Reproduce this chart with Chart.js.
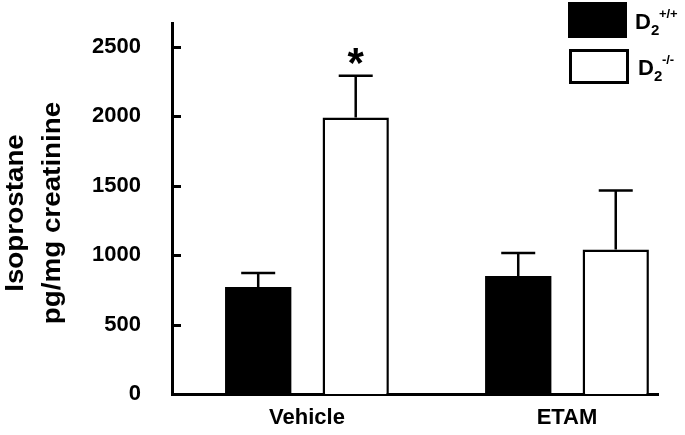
<!DOCTYPE html>
<html>
<head>
<meta charset="utf-8">
<script src="https://cdn.jsdelivr.net/npm/chart.js@4/dist/chart.umd.min.js"></script>
<style>
  html, body { margin: 0; padding: 0; background: #fff; }
  #chart { display: block; }
</style>
</head>
<body>
<canvas id="chart" width="685" height="435"></canvas>
<script>
const categories = ['Vehicle', 'ETAM'];
const wtMean = [770, 850];   // D2+/+
const wtErr = [100, 165];
const koMean = [1990, 1040]; // D2-/-
const koErr = [300, 425];
const yTicks = [0, 500, 1000, 1500, 2000, 2500];
const significant = [true, false]; // asterisk over D2-/- bar

const FONT = 'Arial, "Liberation Sans", sans-serif';

// error bars, asterisk, inward ticks, y title and legend
const extras = {
    id: 'extras',
    afterDatasetsDraw(chart) {
        const ctx = chart.ctx;
        const y = chart.scales.y;
        const sets = [[wtMean, wtErr], [koMean, koErr]];
        ctx.save();
        ctx.strokeStyle = '#000';
        ctx.lineWidth = 2.5;
        sets.forEach((s, di) => {
            chart.getDatasetMeta(di).data.forEach((bar, i) => {
                const top = y.getPixelForValue(s[0][i] + s[1][i]);
                ctx.beginPath();
                ctx.moveTo(bar.x, bar.y);
                ctx.lineTo(bar.x, top);
                ctx.moveTo(bar.x - 17, top);
                ctx.lineTo(bar.x + 17, top);
                ctx.stroke();
                if (di === 1 && significant[i]) {
                    ctx.fillStyle = '#000';
                    ctx.font = 'bold 42px ' + FONT;
                    ctx.textAlign = 'center';
                    ctx.textBaseline = 'alphabetic';
                    ctx.fillText('*', bar.x, top + 1);
                }
            });
        });
        ctx.restore();
    },
    afterDraw(chart) {
        const ctx = chart.ctx;
        const y = chart.scales.y;
        const left = chart.chartArea.left;
        ctx.save();
        ctx.strokeStyle = '#000';
        ctx.lineWidth = 3;
        yTicks.forEach(v => {
            if (v === 0) return;
            const py = Math.round(y.getPixelForValue(v)) + 0.5;
            ctx.beginPath();
            ctx.moveTo(left, py);
            ctx.lineTo(left + 9, py);
            ctx.stroke();
        });

        // y title, two lines, rotated
        ctx.fillStyle = '#000';
        ctx.textAlign = 'center';
        ctx.textBaseline = 'alphabetic';
        ctx.font = 'bold 26px ' + FONT;
        const cy = 213;
        [['Isoprostane', 23], ['pg/mg creatinine', 60]].forEach(([t, bx]) => {
            ctx.save();
            ctx.translate(bx, cy);
            ctx.rotate(-Math.PI / 2);
            ctx.scale(1.07, 1);
            ctx.fillText(t, 0, 0);
            ctx.restore();
        });

        // legend
        ctx.fillStyle = '#000';
        ctx.fillRect(568, 2, 59, 36);
        ctx.fillStyle = '#fff';
        ctx.fillRect(570, 50, 57, 32);
        ctx.strokeRect(570.5, 50.5, 57, 32);
        const items = [['+/+', 635, 29], ['-/-', 638, 75]];
        ctx.fillStyle = '#000';
        ctx.textAlign = 'left';
        items.forEach(([sup, x, base]) => {
            ctx.font = 'bold 22px ' + FONT;
            ctx.fillText('D', x, base);
            const dw = ctx.measureText('D').width;
            ctx.font = 'bold 15px ' + FONT;
            ctx.fillText('2', x + dw, base + 6);
            ctx.font = 'bold 13px ' + FONT;
            ctx.fillText(sup, x + dw + 8, base - 11);
        });
        ctx.restore();
    }
};

new Chart(document.getElementById('chart'), {
    type: 'bar',
    data: {
        datasets: [
            {
                label: 'D2+/+',
                data: categories.map((c, i) => ({x: i + 1, y: wtMean[i]})),
                backgroundColor: '#000',
                borderWidth: 0
            },
            {
                label: 'D2-/-',
                data: categories.map((c, i) => ({x: i + 1, y: koMean[i]})),
                backgroundColor: '#fff',
                borderColor: '#000',
                borderWidth: 2.5
            }
        ]
    },
    options: {
        responsive: false,
        animation: false,
        devicePixelRatio: 1,
        categoryPercentage: 0.75,
        barPercentage: 0.68,
        layout: {padding: {top: 23, right: 27, bottom: 0, left: 0}},
        plugins: {legend: {display: false}, tooltip: {enabled: false}},
        scales: {
            x: {
                type: 'linear',
                offset: false,
                min: 0.481,
                max: 2.35,
                z: 1,
                afterBuildTicks: s => { s.ticks = categories.map((c, i) => ({value: i + 1})); },
                afterFit: s => { s.height = 41; s.paddingLeft = 0; s.paddingRight = 0; },
                ticks: {
                    callback: v => categories[Math.round(v) - 1],
                    color: '#000',
                    font: {family: FONT, size: 22, weight: 'bold'},
                    padding: 11,
                    maxRotation: 0
                },
                grid: {display: false, drawTicks: false},
                border: {display: true, color: '#000', width: 3}
            },
            y: {
                min: 0,
                max: 2670,
                z: 1,
                afterBuildTicks: s => { s.ticks = yTicks.map(v => ({value: v})); },
                afterFit: s => { s.width = 172; s.paddingTop = 0; s.paddingBottom = 0; },
                ticks: {
                    callback: v => String(v),
                    color: '#000',
                    font: {family: FONT, size: 22, weight: 'bold'},
                    padding: 31
                },
                grid: {display: false, drawTicks: false},
                border: {display: true, color: '#000', width: 3}
            }
        }
    },
    plugins: [extras]
});
</script>
</body>
</html>
